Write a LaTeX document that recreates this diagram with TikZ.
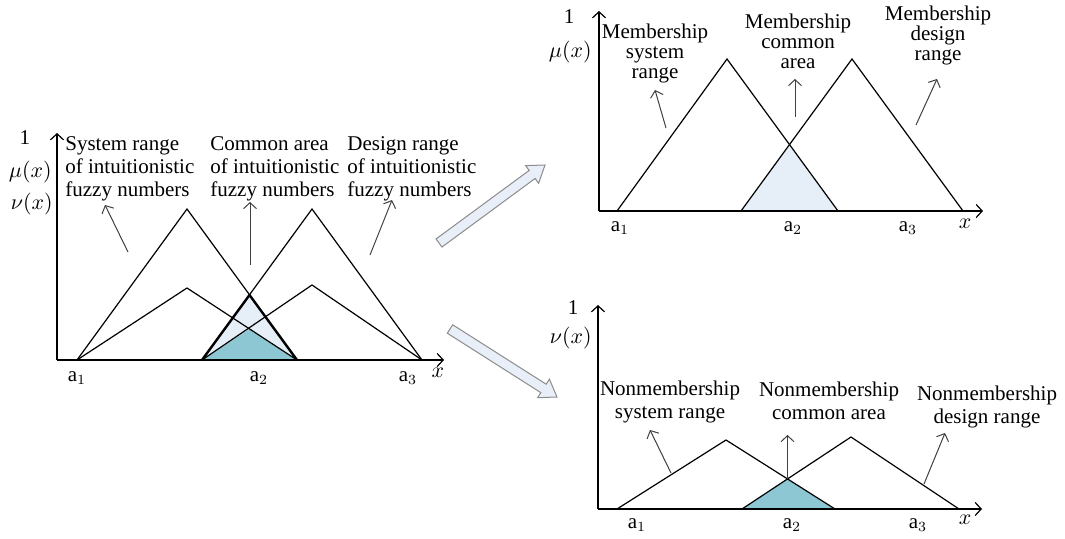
\documentclass[tikz,border=0pt]{standalone}
\usepackage{fontspec}
\setmainfont{Liberation Serif}
\usetikzlibrary{calc,arrows.meta}

\definecolor{lightarea}{HTML}{E6EEF7}
\definecolor{tealarea}{HTML}{8DC7D3}
\definecolor{bigarrow}{HTML}{E8EFF8}

\tikzset{
  axis/.style={-{Straight Barb[length=3pt,width=6.5pt]},line width=0.6pt},
  curve/.style={line width=0.6pt},
  note/.style={-{Straight Barb[length=3pt,width=6.5pt]},line width=0.5pt,draw=black!75},
  lbl/.style={font=\fontsize{10.5}{11.5}\selectfont,inner sep=0pt},
  tick/.style={font=\fontsize{10.5}{12}\selectfont,inner sep=0pt},
  fatarrow/.style={draw=black!45,fill=bigarrow,line width=0.5pt,line join=miter}
}

\begin{document}
\begin{tikzpicture}[x=0.5pt,y=-0.5pt]
\useasboundingbox (0,0) rectangle (1065,539);

% left plot: membership and nonmembership together
\fill[lightarea] (202,360) -- (249.5,295) -- (297,360) -- cycle;
\fill[tealarea] (202,360) -- (249.5,329) -- (297,360) -- cycle;
\draw[curve] (77,360) -- (187,209) -- (297,360);
\draw[curve] (202,360) -- (312,209) -- (422,360);
\draw[curve] (77,360) -- (187,288) -- (297,360);
\draw[curve] (202,360) -- (312,285) -- (422,360);
\draw[line width=1.2pt,line join=round] (202,360) -- (249.5,295) -- (297,360);
\draw[line width=1pt] (202,360) -- (422,360);
\coordinate (O1) at (57,360);
\coordinate (Y1) at (57,133);
\coordinate (X1) at (444,360);
\draw[axis] (O1) -- (Y1);
\draw[axis] (O1) -- (X1);

\node[tick] (one1) at (25,138) {1};
\node[tick,anchor=east] (mu1) at (52,172) {$\mu(x)$};
\node[tick,anchor=east] (nu1) at (53,204) {$\nu(x)$};
\node[tick] (a11) at (77,378) {a$_1$};
\node[tick] (a21) at (259,378) {a$_2$};
\node[tick] (a31) at (408,378) {a$_3$};
\node[tick] (x1) at (438,373) {$x$};

\node[lbl,anchor=north west,align=left] (sys1) at (65,136) {System range\\of intuitionistic\\fuzzy numbers};
\node[lbl,anchor=north west,align=left] (com1) at (210,136) {Common area\\of intuitionistic\\fuzzy numbers};
\node[lbl,anchor=north west,align=left] (des1) at (347,136) {Design range\\of intuitionistic\\fuzzy numbers};
\coordinate (sys1a) at (128,252);
\coordinate (sys1b) at (105,205);
\coordinate (com1a) at (250,265);
\coordinate (com1b) at (250,202);
\coordinate (des1a) at (370,255);
\coordinate (des1b) at (392,200);
\draw[note] (sys1a) -- (sys1b);
\draw[note] (com1a) -- (com1b);
\draw[note] (des1a) -- (des1b);

% block arrows
\coordinate (upTail) at (439,243);
\coordinate (upTip) at (545,165);
\coordinate (upNeck) at ($(upTip)!8pt!(upTail)$);
\draw[fatarrow] ($(upTail)!2.5pt!90:(upTip)$) -- ($(upNeck)!2.5pt!-90:(upTail)$)
  -- ($(upNeck)!5.5pt!-90:(upTail)$) -- (upTip) -- ($(upNeck)!5.5pt!90:(upTail)$)
  -- ($(upNeck)!2.5pt!90:(upTail)$) -- ($(upTail)!2.5pt!-90:(upTip)$) -- cycle;
\coordinate (dnTail) at (450,329);
\coordinate (dnTip) at (557,397);
\coordinate (dnNeck) at ($(dnTip)!8pt!(dnTail)$);
\draw[fatarrow] ($(dnTail)!2.5pt!90:(dnTip)$) -- ($(dnNeck)!2.5pt!-90:(dnTail)$)
  -- ($(dnNeck)!5.5pt!-90:(dnTail)$) -- (dnTip) -- ($(dnNeck)!5.5pt!90:(dnTail)$)
  -- ($(dnNeck)!2.5pt!90:(dnTail)$) -- ($(dnTail)!2.5pt!-90:(dnTip)$) -- cycle;

% top right: membership
\fill[lightarea] (741,211) -- (789.5,144.6) -- (838,211) -- cycle;
\draw[curve] (617,211) -- (727,59) -- (838,211);
\draw[curve] (741,211) -- (852,59) -- (963,211);
\draw[line width=0.9pt] (741,211) -- (963,211);
\coordinate (O2) at (599,211);
\coordinate (Y2) at (599,11);
\coordinate (X2) at (983,211);
\draw[axis] (O2) -- (Y2);
\draw[axis] (O2) -- (X2);

\node[tick] (one2) at (569,17) {1};
\node[tick,anchor=east] (mu2) at (592,52) {$\mu(x)$};
\node[tick] (a12) at (620,228) {a$_1$};
\node[tick] (a22) at (793,228) {a$_2$};
\node[tick] (a32) at (908,228) {a$_3$};
\node[tick] (x2) at (965,224) {$x$};

\node[lbl,anchor=north,align=center,font=\fontsize{10.5}{10}\selectfont] (sys2) at (655,24) {Membership\\system\\range};
\node[lbl,anchor=north,align=center,font=\fontsize{10.5}{10}\selectfont] (com2) at (798,14) {Membership\\common\\area};
\node[lbl,anchor=north,align=center,font=\fontsize{10.5}{10}\selectfont] (des2) at (938,6) {Membership\\design\\range};
\coordinate (sys2a) at (666,128);
\coordinate (sys2b) at (655,90);
\coordinate (com2a) at (795,117);
\coordinate (com2b) at (795,79);
\coordinate (des2a) at (916,125);
\coordinate (des2b) at (937,79);
\draw[note] (sys2a) -- (sys2b);
\draw[note] (com2a) -- (com2b);
\draw[note] (des2a) -- (des2b);

% bottom right: nonmembership
\fill[tealarea] (742,509) -- (787.5,479) -- (835,509) -- cycle;
\draw[curve] (617,509) -- (726,440) -- (835,509);
\draw[curve] (742,509) -- (851,437) -- (959,509);
\draw[line width=0.9pt] (742,509) -- (959,509);
\coordinate (O3) at (598,509);
\coordinate (Y3) at (598,305);
\coordinate (X3) at (982,509);
\draw[axis] (O3) -- (Y3);
\draw[axis] (O3) -- (X3);

\node[tick] (one3) at (573,308) {1};
\node[tick,anchor=east] (nu3) at (592,338) {$\nu(x)$};
\node[tick] (a13) at (637,525) {a$_1$};
\node[tick] (a23) at (792,525) {a$_2$};
\node[tick] (a33) at (918,525) {a$_3$};
\node[tick] (x3) at (965,520) {$x$};

\node[lbl,anchor=north,align=center] (sys3) at (670,381) {Nonmembership\\system range};
\node[lbl,anchor=north,align=center] (com3) at (829,382) {Nonmembership\\common area};
\node[lbl,anchor=north,align=center] (des3) at (987,386) {Nonmembership\\design range};
\coordinate (sys3a) at (671,473);
\coordinate (sys3b) at (650,430);
\coordinate (com3a) at (787.5,479);
\coordinate (com3b) at (787.5,435);
\coordinate (des3a) at (924,484);
\coordinate (des3b) at (945,433);
\draw[note] (sys3a) -- (sys3b);
\draw[note] (com3a) -- (com3b);
\draw[note] (des3a) -- (des3b);
\end{tikzpicture}
\end{document}
